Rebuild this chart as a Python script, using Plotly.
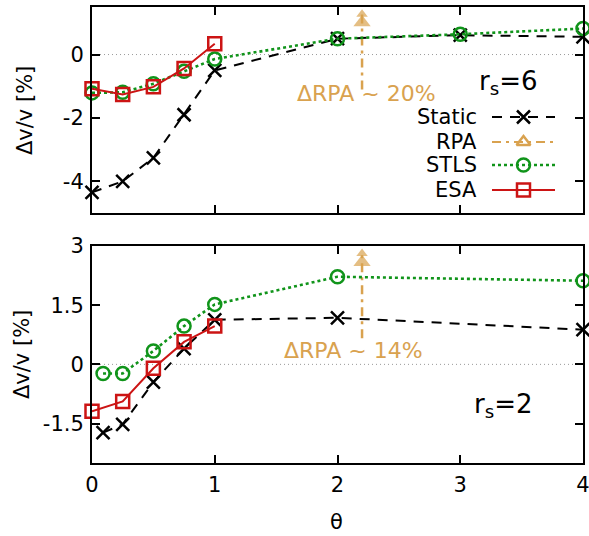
import plotly.graph_objects as go

# ---------------- data ----------------
# r_s = 6 (upper panel)
theta_top = [0, 0.25, 0.5, 0.75, 1, 2, 3, 4]
static_top = [-4.35, -4.0, -3.26, -1.9, -0.5, 0.5, 0.61, 0.56]
stls_top = [-1.21, -1.19, -0.92, -0.53, -0.14, 0.5, 0.64, 0.82]
theta_esa_top = [0, 0.25, 0.5, 0.75, 1]
esa_top = [-1.08, -1.26, -1.02, -0.44, 0.34]

# r_s = 2 (lower panel)
theta_bot = [0.09, 0.25, 0.5, 0.75, 1, 2, 4]
static_bot = [-1.73, -1.52, -0.45, 0.4, 1.13, 1.18, 0.88]
stls_bot = [-0.23, -0.23, 0.34, 0.97, 1.52, 2.22, 2.12]
theta_esa_bot = [0, 0.25, 0.5, 0.75, 1]
esa_bot = [-1.19, -0.94, -0.1, 0.57, 0.97]

# RPA lies far off scale: position and value (in %)
rpa_theta = 2.2
rpa_top = 20
rpa_bot = 14

x_ticks = [0, 1, 2, 3, 4]
y_ticks_top = [0, -2, -4]
y_ticks_top_text = ["0", "-2", "-4"]
y_ticks_bot = [3, 1.5, 0, -1.5]
y_ticks_bot_text = ["3", "1.5", "0", "-1.5"]

# ---------------- styling ----------------
FONT = "DejaVu Sans"
BLACK = "#000000"
TAN = "#D9A24F"
GREEN = "#10941A"
RED = "#CC1414"
W, H = 589, 536
L, R, T, B = 92, 6, 7, 73
PW, PH = W - L - R, H - T - B

def fx(px):
    return (px - L) / PW

def fy(py):
    return (H - B - py) / PH

top_dom = [fy(213), 1.0]
bot_dom = [0.0, fy(246)]
range_top = [-5, 1.5]
range_bot = [-2.5, 3]

STYLE = {
    "static": dict(color=BLACK, dash="10px,8px", symbol="x-thin-open", size=13, width=2),
    "rpa": dict(color=TAN, dash="9px,5px,3px,5px", symbol="triangle-up-open", size=12, width=2),
    "stls": dict(color=GREEN, dash="3px,3px", symbol="circle-open", size=13, width=2.6),
    "esa": dict(color=RED, dash="solid", symbol="square-open", size=13, width=2),
}

fig = go.Figure()

def series(x, y, key, xa, ya):
    s = STYLE[key]
    fig.add_trace(go.Scatter(
        x=x, y=y, mode="lines+markers", xaxis=xa, yaxis=ya,
        line=dict(color=s["color"], width=s["width"], dash=s["dash"]),
        marker=dict(symbol=s["symbol"], size=s["size"], color=s["color"],
                    line=dict(color=s["color"], width=2.5)),
        showlegend=False, cliponaxis=False))

# zero reference lines
for xa, ya in (("x", "y"), ("x2", "y2")):
    fig.add_shape(type="line", xref=xa, yref=ya,
                  x0=0, x1=3.92, y0=0, y1=0,
                  line=dict(color="#9a9a9a", width=1, dash="1px,3px"), layer="below")

# RPA off-scale arrows: dash-dot shaft up to the frame, arrow head at the frame
def rpa_arrow(value, y_start, rng, xa, ya):
    top = min(value, rng[1])
    span = rng[1] - rng[0]
    fig.add_trace(go.Scatter(
        x=[rpa_theta, rpa_theta], y=[y_start, top - 0.03 * span], mode="lines",
        xaxis=xa, yaxis=ya, line=dict(color=TAN, width=2.5, dash="9px,5px,3px,5px"),
        showlegend=False, cliponaxis=False))
    fig.add_trace(go.Scatter(
        x=[rpa_theta, rpa_theta], y=[top - 0.075 * span, top - 0.035 * span],
        mode="markers", xaxis=xa, yaxis=ya,
        marker=dict(symbol="triangle-up", size=[15, 10], color=TAN, line=dict(width=0)),
        showlegend=False, cliponaxis=False))

rpa_arrow(rpa_top, -1.1, range_top, "x", "y")
rpa_arrow(rpa_bot, 0.66, range_bot, "x2", "y2")

series(theta_top, static_top, "static", "x", "y")
series(theta_top, stls_top, "stls", "x", "y")
series(theta_esa_top, esa_top, "esa", "x", "y")

series(theta_bot, static_bot, "static", "x2", "y2")
series(theta_bot, stls_bot, "stls", "x2", "y2")
series(theta_esa_bot, esa_bot, "esa", "x2", "y2")

# key drawn gnuplot style: label on the left, line sample on the right
legend_rows = [("Static", "static", 117), ("RPA", "rpa", 142),
               ("STLS", "stls", 165), ("ESA", "esa", 190)]
annotations = []
for label, key, py in legend_rows:
    s = STYLE[key]
    fig.add_trace(go.Scatter(
        x=[fx(492), fx(555)], y=[fy(py), fy(py)], mode="lines", xaxis="x3", yaxis="y3",
        line=dict(color=s["color"], width=s["width"], dash=s["dash"]), showlegend=False))
    fig.add_trace(go.Scatter(
        x=[fx(523.5)], y=[fy(py)], mode="markers", xaxis="x3", yaxis="y3",
        marker=dict(symbol=s["symbol"], size=s["size"], color=s["color"],
                    line=dict(color=s["color"], width=2.5)),
        showlegend=False))
    annotations.append(dict(text=label, xref="paper", yref="paper", x=fx(479), y=fy(py),
                            xanchor="right", yanchor="middle", showarrow=False,
                            font=dict(family=FONT, size=21, color=BLACK)))

annotations += [
    dict(text="r<sub>s</sub>=6", xref="paper", yref="paper", x=fx(508), y=fy(82),
         xanchor="center", yanchor="middle", showarrow=False,
         font=dict(family=FONT, size=26, color=BLACK)),
    dict(text="r<sub>s</sub>=2", xref="paper", yref="paper", x=fx(503), y=fy(405),
         xanchor="center", yanchor="middle", showarrow=False,
         font=dict(family=FONT, size=26, color=BLACK)),
    dict(text="\u0394RPA ~ %d%%" % rpa_top, xref="paper", yref="paper", x=fx(366), y=fy(94),
         xanchor="center", yanchor="middle", showarrow=False,
         font=dict(family=FONT, size=22, color=TAN)),
    dict(text="\u0394RPA ~ %d%%" % rpa_bot, xref="paper", yref="paper", x=fx(353), y=fy(350),
         xanchor="center", yanchor="middle", showarrow=False,
         font=dict(family=FONT, size=22, color=TAN)),
    dict(text="\u0394v/v [%]", xref="paper", yref="paper", x=fx(25), y=fy(111),
         xanchor="center", yanchor="middle", textangle=-90, showarrow=False,
         font=dict(family=FONT, size=21, color=BLACK)),
    dict(text="\u0394v/v [%]", xref="paper", yref="paper", x=fx(22), y=fy(355),
         xanchor="center", yanchor="middle", textangle=-90, showarrow=False,
         font=dict(family=FONT, size=21, color=BLACK)),
    dict(text="\u03b8", xref="paper", yref="paper", x=fx(336), y=fy(522),
         xanchor="center", yanchor="middle", showarrow=False,
         font=dict(family=FONT, size=21, color=BLACK)),
]

axis_common = dict(showline=True, linecolor=BLACK, linewidth=2, mirror="ticks",
                   ticks="inside", ticklen=8, tickwidth=2, tickcolor=BLACK,
                   showgrid=False, zeroline=False, ticklabeloverflow="allow",
                   tickfont=dict(family=FONT, size=21, color=BLACK))

fig.update_layout(
    width=W, height=H, margin=dict(l=L, r=R, t=T, b=B, autoexpand=False),
    paper_bgcolor="white", plot_bgcolor="rgba(0,0,0,0)",
    showlegend=False,
    xaxis=dict(axis_common, domain=[0, 1], range=[0, 4], anchor="y",
               tickvals=x_ticks, showticklabels=False),
    yaxis=dict(axis_common, domain=top_dom, range=range_top, anchor="x",
               tickvals=y_ticks_top, ticktext=y_ticks_top_text, ticklabelstandoff=2),
    xaxis2=dict(axis_common, domain=[0, 1], range=[0, 4], anchor="y2",
                tickvals=x_ticks, ticklabelstandoff=2),
    yaxis2=dict(axis_common, domain=bot_dom, range=range_bot, anchor="x2",
                tickvals=y_ticks_bot, ticktext=y_ticks_bot_text, ticklabelstandoff=2),
    xaxis3=dict(domain=[0, 1], range=[0, 1], anchor="y3", visible=False, fixedrange=True),
    yaxis3=dict(domain=[0, 1], range=[0, 1], anchor="x3", visible=False, fixedrange=True),
    annotations=annotations,
)

fig.write_html("out.html")
